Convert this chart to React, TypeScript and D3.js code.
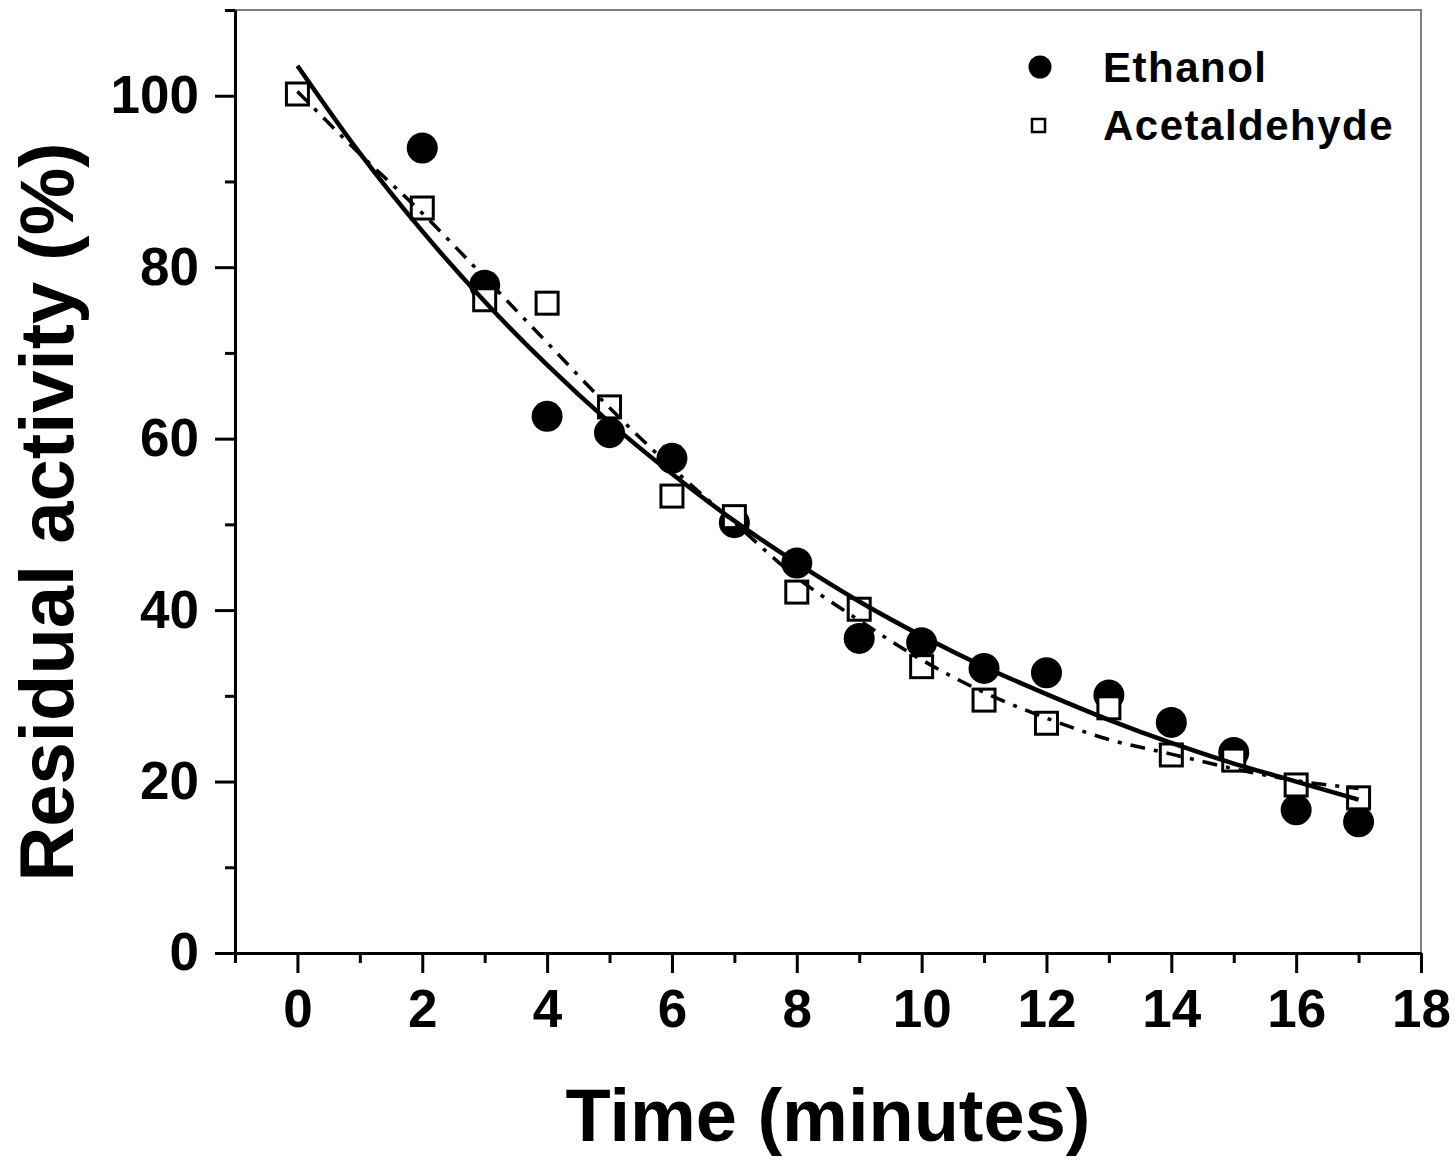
import React, { useEffect, useRef } from 'react';
import * as d3 from 'd3';

// measured points (minutes, % residual activity)
const ethanolTime = [2, 3, 4, 5, 6, 7, 8, 9, 10, 11, 12, 13, 14, 15, 16, 17];
const ethanolValues = [93.9, 77.9, 62.6, 60.7, 57.7, 50.2, 45.5, 36.7, 36.2, 33.2, 32.7, 30.1, 26.9, 23.4, 16.7, 15.3];

const acetTime = [0, 2, 3, 4, 5, 6, 7, 8, 9, 10, 11, 12, 13, 14, 15, 16, 17];
const acetValues = [100.2, 86.9, 76.2, 75.8, 63.7, 53.3, 50.9, 42.1, 40.1, 33.4, 29.5, 26.8, 28.6, 23.1, 22.5, 19.6, 18.1];

// fitted curves
const fitTime = [0, 1, 2, 3, 4, 5, 6, 7, 8, 9, 10, 11, 12, 13, 14, 15, 16, 17];
const ethanolFit = [103.5, 93.3, 84.2, 76.0, 68.6, 61.9, 55.9, 50.4, 45.5, 41.0, 37.0, 33.4, 30.2, 27.2, 24.5, 22.1, 20.0, 17.9];
const acetFit = [100.5, 93.2, 86.3, 78.8, 71.2, 63.6, 56.6, 50.2, 43.8, 38.8, 34.2, 30.4, 27.4, 24.9, 23.2, 21.5, 20.1, 19.2];

const xMajor = [0, 2, 4, 6, 8, 10, 12, 14, 16, 18];
const xMinor = [-1, 1, 3, 5, 7, 9, 11, 13, 15, 17];
const yMajor = [0, 20, 40, 60, 80, 100];
const yMinor = [10, 30, 50, 70, 90, 110];

const legendLabels = ['Ethanol', 'Acetaldehyde'];

const W = 1455;
const H = 1165;
const FONT = '"Liberation Sans", Arial, Helvetica, sans-serif';

export default function App() {
    const svgRef = useRef<SVGSVGElement>(null);

    useEffect(() => {
        if (!svgRef.current) return;
        const svg = d3.select(svgRef.current);
        svg.selectAll('*').remove();

        const left = 235, right = 1421, top = 10, bottom = 953;

        const x = d3.scaleLinear().domain([-1, 18]).range([left, right]);
        const y = d3.scaleLinear().domain([0, 110]).range([bottom, top]);

        // frame (top + right)
        svg.append('path')
            .attr('d', `M${left},${top}H${right}V${bottom}`)
            .attr('fill', 'none')
            .attr('stroke', '#808080')
            .attr('stroke-width', 2);

        const styleAxis = (g: d3.Selection<SVGGElement, unknown, null, undefined>) => {
            g.selectAll('path, line').attr('stroke', '#000').attr('stroke-width', 3);
            g.selectAll('text')
                .attr('fill', '#000')
                .style('font-family', FONT)
                .style('font-weight', 'bold')
                .style('font-size', '53px');
        };

        // x axis
        svg.append('g')
            .attr('transform', `translate(0,${bottom})`)
            .call(d3.axisBottom(x).tickValues(xMinor).tickSize(10).tickSizeOuter(0).tickFormat(() => ''))
            .call(styleAxis);
        svg.append('g')
            .attr('transform', `translate(0,${bottom})`)
            .call(d3.axisBottom(x).tickValues(xMajor).tickSize(20).tickSizeOuter(0).tickPadding(16).tickFormat(d3.format('d')))
            .call(styleAxis);

        // y axis
        svg.append('g')
            .attr('transform', `translate(${left},0)`)
            .call(d3.axisLeft(y).tickValues(yMinor).tickSize(10).tickSizeOuter(0).tickFormat(() => ''))
            .call(styleAxis);
        svg.append('g')
            .attr('transform', `translate(${left},0)`)
            .call(d3.axisLeft(y).tickValues(yMajor).tickSize(20).tickSizeOuter(0).tickPadding(16).tickFormat(d3.format('d')))
            .call(styleAxis);

        // markers
        svg.append('g')
            .selectAll('circle')
            .data(ethanolTime)
            .join('circle')
            .attr('cx', d => x(d))
            .attr('cy', (d, i) => y(ethanolValues[i]))
            .attr('r', 15.5)
            .attr('fill', '#000');

        svg.append('g')
            .selectAll('rect')
            .data(acetTime)
            .join('rect')
            .attr('x', d => x(d) - 11)
            .attr('y', (d, i) => y(acetValues[i]) - 11)
            .attr('width', 22)
            .attr('height', 22)
            .attr('fill', '#fff')
            .attr('stroke', '#000')
            .attr('stroke-width', 3);

        // fit curves
        const line = d3.line<number>()
            .x(d => x(d))
            .curve(d3.curveMonotoneX);

        svg.append('path')
            .attr('d', line.y((d, i) => y(acetFit[i]))(fitTime))
            .attr('fill', 'none')
            .attr('stroke', '#000')
            .attr('stroke-width', 3.5)
            .attr('stroke-dasharray', '15 9 4 9');

        svg.append('path')
            .attr('d', line.y((d, i) => y(ethanolFit[i]))(fitTime))
            .attr('fill', 'none')
            .attr('stroke', '#000')
            .attr('stroke-width', 4.5);

        // legend
        const legend = svg.append('g');
        legend.append('circle')
            .attr('cx', 1040).attr('cy', 67).attr('r', 11.5).attr('fill', '#000');
        legend.append('rect')
            .attr('x', 1032).attr('y', 119).attr('width', 13).attr('height', 13)
            .attr('fill', '#fff').attr('stroke', '#000').attr('stroke-width', 2.5);
        legend.selectAll('text')
            .data(legendLabels)
            .join('text')
            .attr('x', 1103)
            .attr('y', (d, i) => 82 + i * 58)
            .text(d => d)
            .style('font-family', FONT)
            .style('font-weight', 'bold')
            .style('font-size', '42px')
            .style('letter-spacing', '1.5px');

        // axis titles
        svg.append('text')
            .attr('x', (left + right) / 2)
            .attr('y', 1141)
            .attr('text-anchor', 'middle')
            .text('Time (minutes)')
            .style('font-family', FONT)
            .style('font-weight', 'bold')
            .style('font-size', '74px');

        svg.append('text')
            .attr('transform', `translate(73,512) rotate(-90)`)
            .attr('text-anchor', 'middle')
            .text('Residual activity (%)')
            .style('font-family', FONT)
            .style('font-weight', 'bold')
            .style('font-size', '76px');
    }, []);

    return (
        <div style={{ position: 'absolute', left: 0, top: 0, width: W, height: H, background: '#fff' }}>
            <svg ref={svgRef} width={W} height={H} style={{ display: 'block' }} />
        </div>
    );
}
